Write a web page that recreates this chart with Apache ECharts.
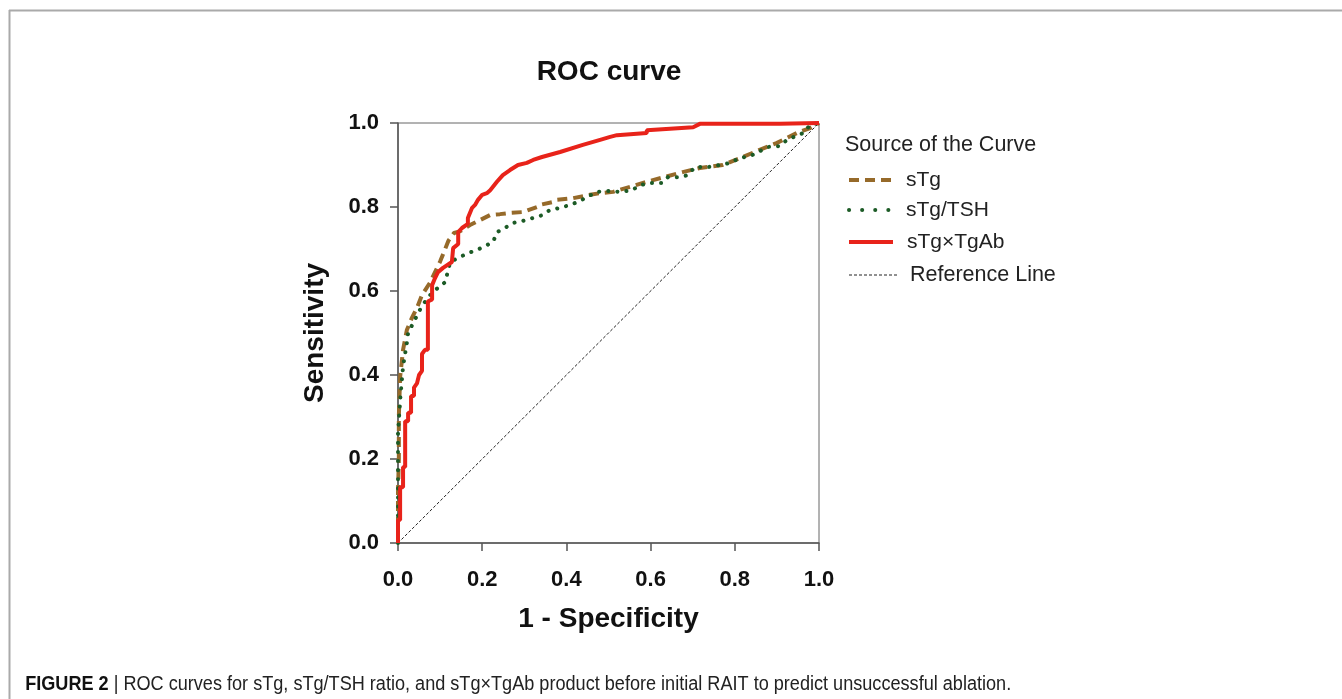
<!DOCTYPE html>
<html>
<head>
<meta charset="utf-8">
<script src="https://cdn.jsdelivr.net/npm/echarts@6/dist/echarts.min.js"></script>
<style>
html,body{margin:0;padding:0;background:#fff;}
#main{width:1342px;height:699px;}
</style>
</head>
<body>
<div id="main"></div>
<script>
// ---- data (1 - specificity, sensitivity) ----
var seriesNames = ['sTg', 'sTg/TSH', 'sTg\u00d7TgAb', 'Reference Line'];
var legendTitle = 'Source of the Curve';
var axisTicks = [0, 0.2, 0.4, 0.6, 0.8, 1.0];

var sTgPoints = [[0,0],[0,0.12],[0.002,0.2],[0.002,0.3],[0.005,0.395],[0.012,0.46],[0.021,0.507],[0.033,0.536],[0.045,0.56],[0.057,0.59],[0.076,0.62],[0.1,0.67],[0.112,0.7],[0.12,0.72],[0.133,0.738],[0.147,0.742],[0.171,0.757],[0.195,0.769],[0.219,0.781],[0.242,0.783],[0.266,0.786],[0.297,0.788],[0.33,0.8],[0.337,0.805],[0.368,0.812],[0.378,0.817],[0.416,0.821],[0.456,0.829],[0.48,0.833],[0.511,0.836],[0.551,0.848],[0.591,0.86],[0.676,0.883],[0.717,0.893],[0.771,0.9],[0.819,0.919],[0.859,0.936],[0.899,0.952],[0.947,0.976],[0.979,0.988],[1,1]];

var sTgTshPoints = [[0,0],[0,0.12],[0,0.26],[0.005,0.34],[0.012,0.42],[0.021,0.476],[0.024,0.5],[0.052,0.555],[0.064,0.574],[0.076,0.59],[0.088,0.602],[0.112,0.621],[0.124,0.669],[0.147,0.681],[0.166,0.69],[0.188,0.698],[0.207,0.707],[0.226,0.717],[0.235,0.74],[0.254,0.75],[0.273,0.762],[0.297,0.767],[0.321,0.774],[0.344,0.781],[0.361,0.793],[0.385,0.798],[0.409,0.805],[0.432,0.814],[0.449,0.824],[0.473,0.836],[0.499,0.838],[0.527,0.836],[0.556,0.84],[0.575,0.852],[0.599,0.857],[0.627,0.857],[0.641,0.871],[0.669,0.871],[0.689,0.876],[0.705,0.895],[0.736,0.895],[0.765,0.9],[0.789,0.905],[0.812,0.917],[0.836,0.921],[0.879,0.943],[0.907,0.945],[0.924,0.96],[0.962,0.976],[0.979,0.995],[1,1]];

var sTgTgAbPoints = [[0,0],[0,0.055],[0.005,0.055],[0.005,0.133],[0.012,0.133],[0.012,0.181],[0.017,0.181],[0.017,0.29],[0.024,0.29],[0.024,0.31],[0.031,0.31],[0.031,0.35],[0.038,0.35],[0.038,0.37],[0.045,0.38],[0.05,0.4],[0.057,0.41],[0.057,0.45],[0.064,0.46],[0.071,0.46],[0.071,0.575],[0.081,0.58],[0.081,0.614],[0.088,0.631],[0.095,0.645],[0.107,0.655],[0.128,0.669],[0.131,0.702],[0.143,0.712],[0.143,0.74],[0.152,0.75],[0.166,0.76],[0.166,0.774],[0.176,0.798],[0.183,0.805],[0.19,0.817],[0.2,0.829],[0.211,0.833],[0.219,0.84],[0.235,0.86],[0.249,0.876],[0.266,0.888],[0.285,0.9],[0.306,0.905],[0.321,0.912],[0.342,0.919],[0.385,0.931],[0.439,0.948],[0.48,0.96],[0.504,0.967],[0.52,0.971],[0.591,0.976],[0.591,0.983],[0.701,0.99],[0.717,0.998],[0.907,0.998],[0.907,1.0],[1,1]];

var referencePoints = [[0,0],[1,1]];

var FONT = 'Liberation Sans, Arial, sans-serif';
var colors = ['#966a2a', '#1c5b26', '#e8231a', '#222'];
var lineStyles = [
  {color: colors[0], width: 4, type: [10, 6]},
  {color: colors[1], width: 4, type: [0.1, 9], cap: 'round'},
  {color: colors[2], width: 4},
  {color: colors[3], width: 1, type: [3, 2]}
];
var legendDash = [[10, 6], [0.1, 13], null, [3, 2]];
var legendWidth = [4, 4, 4, 1];
var dataSets = [sTgPoints, sTgTshPoints, sTgTgAbPoints, referencePoints];

var chart = echarts.init(document.getElementById('main'), null, {renderer: 'canvas'});

// legend drawn as graphic (line sample + label)
var legendGraphics = [];
var rowY = [180, 210, 242, 275];
var textX = [906, 906, 907, 910];
seriesNames.forEach(function (n, i) {
  legendGraphics.push({
    type: 'line', shape: {x1: 849, y1: rowY[i], x2: i === 3 ? 897 : 893, y2: rowY[i]},
    style: {stroke: colors[i], lineWidth: legendWidth[i], lineDash: legendDash[i], lineCap: i === 1 ? 'round' : 'butt'}
  });
  legendGraphics.push({
    type: 'text', x: textX[i], y: rowY[i],
    style: {text: n, font: (i === 3 ? '21.5px ' : '21px ') + FONT, fill: '#222', textVerticalAlign: 'middle', verticalAlign: 'middle'}
  });
});
legendGraphics.push({
  type: 'text', x: 845, y: 145,
  style: {text: legendTitle, font: '21.5px ' + FONT, fill: '#222', textVerticalAlign: 'middle', verticalAlign: 'middle'}
});

var option = {
  backgroundColor: '#fff',
  animation: false,
  title: [
    {text: 'ROC curve', left: 604, top: 53, textAlign: 'center',
     textStyle: {fontFamily: FONT, fontSize: 28, fontWeight: 'bold', color: '#111'}}
  ],
  grid: {left: 398, right: 523, top: 123, bottom: 156, show: true, borderColor: '#666', borderWidth: 1},
  xAxis: {
    type: 'value', min: 0, max: 1, interval: 0.2,
    name: '1 - Specificity', nameLocation: 'middle', nameGap: 62,
    nameTextStyle: {fontFamily: FONT, fontSize: 28, fontWeight: 'bold', color: '#111'},
    axisLine: {show: true, lineStyle: {color: '#555', width: 1.5}},
    axisTick: {show: true, inside: false, length: 8, lineStyle: {color: '#555', width: 1.5}},
    axisLabel: {fontFamily: FONT, fontSize: 22, fontWeight: 'bold', color: '#111', margin: 26,
      formatter: function(v){ return v.toFixed(1); }},
    splitLine: {show: false}
  },
  yAxis: {
    type: 'value', min: 0, max: 1, interval: 0.2,
    name: 'Sensitivity', nameLocation: 'middle', nameGap: 69,
    nameTextStyle: {fontFamily: FONT, fontSize: 28, fontWeight: 'bold', color: '#111'},
    axisLine: {show: true, lineStyle: {color: '#555', width: 1.5}},
    axisTick: {show: true, inside: false, length: 8, lineStyle: {color: '#555', width: 1.5}},
    axisLabel: {fontFamily: FONT, fontSize: 22, fontWeight: 'bold', color: '#111', margin: 19,
      formatter: function(v){ return v.toFixed(1); }},
    splitLine: {show: false}
  },
  series: seriesNames.map(function (n, i) {
    return {name: n, type: 'line', data: dataSets[i], symbol: 'none', z: [3, 4, 5, 2][i],
      itemStyle: {color: colors[i]}, lineStyle: lineStyles[i]};
  }),
  graphic: [
    {type: 'line', shape: {x1: 9, y1: 10.5, x2: 1342, y2: 10.5}, style: {stroke: '#aaa', lineWidth: 2}},
    {type: 'line', shape: {x1: 9.5, y1: 10, x2: 9.5, y2: 699}, style: {stroke: '#aaa', lineWidth: 2}},
    {type: 'text', x: 23, y: 684, scaleX: 0.905, originX: 23, originY: 684,
     style: {
       text: '{b|FIGURE 2} | ROC curves for sTg, sTg/TSH ratio, and sTg\u00d7TgAb product before initial RAIT to predict unsuccessful ablation.',
       font: '20px ' + FONT, fill: '#222', textVerticalAlign: 'middle', verticalAlign: 'middle',
       rich: {b: {fontFamily: FONT, fontSize: 20, fontWeight: 'bold', fill: '#111'}}
     }}
  ].concat(legendGraphics)
};
chart.setOption(option);
</script>
</body>
</html>
